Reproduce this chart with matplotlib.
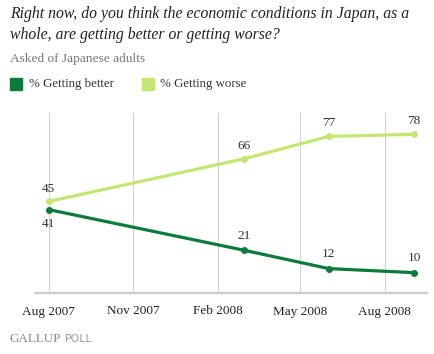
import datetime as dt
import matplotlib
matplotlib.use("Agg")
import matplotlib.pyplot as plt

# data
dates = [dt.date(2007, 8, 1), dt.date(2008, 3, 1), dt.date(2008, 6, 1), dt.date(2008, 9, 2)]
better = [41, 21, 12, 10]
worse = [45, 66, 77, 78]
tick_dates = [dt.date(2007, 8, 1), dt.date(2007, 11, 1), dt.date(2008, 2, 1),
              dt.date(2008, 5, 1), dt.date(2008, 8, 1)]
tick_labels = ["Aug 2007", "Nov 2007", "Feb 2008", "May 2008", "Aug 2008"]

dark_green = "#0b7a3a"
light_green = "#c4e672"
serif = "Liberation Serif"

fig = plt.figure(figsize=(4.34, 3.54), dpi=100)
ax = fig.add_axes([35 / 434, 61 / 354, 392 / 434, 180 / 354])

ax.plot(dates, worse, color=light_green, lw=2.3, marker="o", ms=4, zorder=3)
ax.plot(dates, better, color=dark_green, lw=2.3, marker="o", ms=4, zorder=3)

# value labels
for d, v in zip(dates, worse):
    ax.annotate(str(v), (d, v), xytext=(0, 5), textcoords="offset points",
                ha="center", va="bottom", fontsize=9.5, family=serif, color="#333333")
for i, (d, v) in enumerate(zip(dates, better)):
    off = (0, -6) if i == 0 else (0, 6)
    va = "top" if i == 0 else "bottom"
    ax.annotate(str(v), (d, v), xytext=off, textcoords="offset points",
                ha="center", va=va, fontsize=9.5, family=serif, color="#333333")

ax.set_xlim(dt.date(2007, 7, 17), dt.date(2008, 9, 16))
ax.set_ylim(0, 88.5)
ax.set_xticks(tick_dates)
ax.set_xticklabels(tick_labels, family=serif, fontsize=9.5, color="#222222")
ax.tick_params(axis="x", length=0, pad=9)
ax.set_yticks([])
ax.grid(axis="x", color="#d0d0d0", lw=0.7)
for s in ["top", "right", "left"]:
    ax.spines[s].set_visible(False)
ax.spines["bottom"].set_color("#cccccc")
ax.spines["bottom"].set_linewidth(1.6)

# header
fig.text(10 / 434, 1 - 14 / 354, "Right now, do you think the economic conditions in Japan, as a",
         family=serif, style="italic", fontsize=11.3, va="center", color="#222222")
fig.text(10 / 434, 1 - 35 / 354, "whole, are getting better or getting worse?",
         family=serif, style="italic", fontsize=11.3, va="center", color="#222222")
fig.text(10 / 434, 1 - 59 / 354, "Asked of Japanese adults",
         family=serif, fontsize=9.6, va="center", color="#777777")

# legend
fig.patches.append(plt.Rectangle((10 / 434, 1 - 90 / 354), 12 / 434, 12 / 354,
                                 transform=fig.transFigure, color=dark_green))
fig.text(29 / 434, 1 - 84 / 354, "% Getting better", family=serif, fontsize=9.3,
         va="center", color="#333333")
fig.patches.append(plt.Rectangle((142 / 434, 1 - 90 / 354), 12 / 434, 12 / 354,
                                 transform=fig.transFigure, color=light_green))
fig.text(160 / 434, 1 - 84 / 354, "% Getting worse", family=serif, fontsize=9.3,
         va="center", color="#333333")

# footer
fig.text(10 / 434, 1 - 339 / 354, "GALLUP", family=serif, fontsize=9.4,
         va="center", color="#888888")
fig.text(65 / 434, 1 - 339 / 354, "POLL", family="DejaVu Sans", fontsize=7.8,
         va="center", color="#999999")

fig.savefig("out.png", dpi=100)
